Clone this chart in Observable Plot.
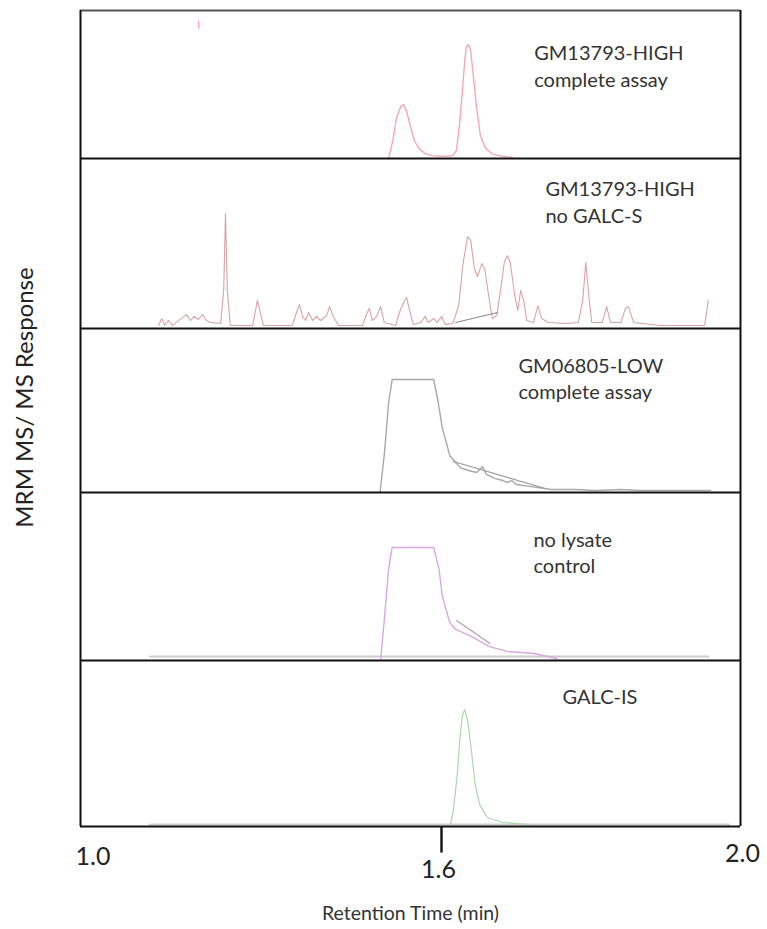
<!DOCTYPE html>
<html>
<head>
<meta charset="utf-8">
<script src="https://cdn.jsdelivr.net/npm/d3@7"></script>
<script src="https://cdn.jsdelivr.net/npm/@observablehq/plot@0.6"></script>
<style>
  html, body { margin: 0; padding: 0; background: #fff; }
  #chart svg { display: block; }
</style>
</head>
<body>
<div id="chart"></div>
<script>
// Panels, bottom (0) to top (4)
const panelNames = ["GALC-IS", "no lysate\ncontrol", "GM06805-LOW\ncomplete assay", "GM13793-HIGH\nno GALC-S", "GM13793-HIGH\ncomplete assay"];
const panelColors = ["#a9d9a9", "#d9a8e2", "#a8a8a8", "#d9a3a6", "#f5a3af"];
const xTicks = [1.0, 1.6, 2.0];

// [retention time (min), relative response within panel]
const highComplete = [
  [1.512,0],[1.519,0.12],[1.525,0.27],[1.532,0.35],[1.537,0.365],[1.542,0.32],[1.548,0.22],
  [1.555,0.12],[1.562,0.07],[1.572,0.035],[1.585,0.02],[1.605,0.015],[1.615,0.02],[1.620,0.055],
  [1.624,0.22],[1.628,0.46],[1.631,0.65],[1.633,0.75],[1.636,0.77],[1.639,0.73],[1.643,0.54],
  [1.647,0.34],[1.652,0.155],[1.659,0.07],[1.668,0.03],[1.682,0.015],[1.695,0.007]
];
const highCompleteSpeck = [[1.196,0.93],[1.197,0.88]];
const highNoSubstrate = [
  [1.130,.018],[1.135,.059],[1.140,.018],[1.146,.047],[1.153,.018],[1.176,.082],[1.183,.047],
  [1.189,.071],[1.196,.053],[1.203,.082],[1.209,.047],[1.216,.035],[1.233,.029],[1.238,.224],
  [1.241,.676],[1.244,.224],[1.249,.018],[1.286,.018],[1.291,.106],[1.294,.165],[1.299,.094],
  [1.304,.018],[1.352,.018],[1.359,.094],[1.364,.141],[1.369,.071],[1.374,.047],[1.379,.094],
  [1.386,.047],[1.392,.071],[1.399,.047],[1.409,.076],[1.414,.129],[1.420,.071],[1.429,.018],
  [1.469,.018],[1.475,.082],[1.480,.118],[1.485,.047],[1.492,.071],[1.499,.129],[1.505,.035],
  [1.524,.018],[1.530,.094],[1.537,.153],[1.542,.182],[1.547,.106],[1.553,.024],[1.565,.035],
  [1.573,.071],[1.578,.035],[1.587,.059],[1.593,.035],[1.600,.071],[1.605,.024],[1.615,.029],
  [1.623,.135],[1.629,.388],[1.635,.541],[1.639,.518],[1.644,.353],[1.648,.306],[1.654,.382],
  [1.658,.347],[1.663,.194],[1.668,.059],[1.674,.076],[1.679,.224],[1.684,.388],[1.688,.429],
  [1.692,.388],[1.698,.194],[1.702,.106],[1.706,.224],[1.710,.165],[1.714,.047],[1.723,.035],
  [1.729,.135],[1.734,.059],[1.743,.035],[1.767,.029],[1.783,.035],[1.789,.165],[1.793,.388],
  [1.797,.194],[1.801,.035],[1.815,.035],[1.821,.129],[1.826,.035],[1.840,.035],[1.846,.118],
  [1.850,.129],[1.857,.035],[1.893,.018],[1.952,.018],[1.957,.165]
];
const lowComplete = [
  [1.498,.006],[1.505,.232],[1.512,.543],[1.518,.689],[1.587,.689],[1.594,.561],[1.601,.396],
  [1.611,.226],[1.619,.183],[1.625,.152],[1.636,.134],[1.647,.122],[1.655,.159],[1.660,.110],
  [1.672,.085],[1.682,.073],[1.688,.061],[1.694,.073],[1.700,.049],[1.718,.037],[1.747,.018],
  [1.779,.018],[1.807,.012],[1.840,.018],[1.866,.012],[1.893,.012],[1.960,.012]
];
const noLysate = [
  [1.499,.012],[1.505,.244],[1.512,.542],[1.518,.673],[1.587,.673],[1.596,.542],[1.601,.384],
  [1.611,.226],[1.619,.185],[1.640,.143],[1.664,.083],[1.688,.054],[1.724,.042],[1.754,.012]
];
const galcIS = [
  [1.612,.012],[1.616,.102],[1.621,.307],[1.625,.548],[1.628,.669],[1.631,.705],[1.635,.639],
  [1.640,.458],[1.645,.253],[1.651,.133],[1.661,.054],[1.682,.024],[1.718,.012]
];
// integration baselines drawn by the software
const highNoSubstrateBase = [[1.619,.035],[1.675,.094]];
const lowCompleteBase = [[1.616,.189],[1.739,.024]];
const noLysateBase = [[1.620,.238],[1.665,.101]];
const noLysateFloor = [[1.115,.024],[1.957,.024]];
const galcFloor = [[1.115,.012],[1.985,.012]];

// The printed time axis is not uniform: 1.0–1.6 and 1.6–2.0 have different spacing.
const xBreaks = [1.0, 1.6, 2.0];
const xBreakPos = [0, 361, 660];
// Panels have slightly unequal heights; a short strip below panel 0 holds the tick mark.
const panelEdges = [0, 1, 2, 3, 4, 5];
const panelEdgePos = [0, 166, 334, 498, 668, 816];
const xWarp = d3.scaleLinear().domain(xBreaks).range(xBreakPos);
const yWarp = d3.scaleLinear().domain(panelEdges).range(panelEdgePos);

const traces = [
  {panel: 4, data: highComplete, stroke: panelColors[4], w: 1.3},
  {panel: 4, data: highCompleteSpeck, stroke: panelColors[4], w: 1.3},
  {panel: 3, data: highNoSubstrate, stroke: panelColors[3], w: 1.1},
  {panel: 3, data: highNoSubstrateBase, stroke: "#8a8a8a", w: 1.1},
  {panel: 2, data: lowComplete, stroke: panelColors[2], w: 1.4},
  {panel: 2, data: lowCompleteBase, stroke: "#9a9a9a", w: 1.1},
  {panel: 1, data: noLysateFloor, stroke: "#cccccc", w: 2},
  {panel: 0, data: galcFloor, stroke: "#cccccc", w: 2},
  {panel: 1, data: noLysate, stroke: panelColors[1], w: 1.4},
  {panel: 1, data: noLysateBase, stroke: "#b39ab8", w: 1.1},
  {panel: 0, data: galcIS, stroke: panelColors[0], w: 1.2}
];

const labelX = [1.762, 1.723, 1.703, 1.739, 1.724];
const labelY = [0.79, 1.65, 2.70, 3.75, 4.63];

const font = "Lato, 'Open Sans', sans-serif";

const marks = [];
traces.forEach((tr) => {
  marks.push(Plot.line(tr.data, {
    x: d => d[0], y: d => tr.panel + d[1],
    stroke: tr.stroke, strokeWidth: tr.w, curve: "linear"
  }));
});
marks.push(
  Plot.ruleY([0, 1, 2, 3, 4], {stroke: "#111", strokeWidth: 2.2}),
  Plot.ruleY([5], {stroke: "#555", strokeWidth: 2.2}),
  Plot.ruleX([1.0, 2.0], {y1: 0, y2: 5, stroke: "#111", strokeWidth: 2}),
  // the single tick mark below the frame, drawn in the short strip under panel 0
  Plot.ruleX([xTicks[1]], {y1: -0.16, y2: 0, stroke: "#111", strokeWidth: 2.4}),
  Plot.text([xTicks[0]], {x: d => d, frameAnchor: "bottom", dy: 12, dx: -5, textAnchor: "start", text: d => d.toFixed(1), fontSize: 25, fill: "#222"}),
  Plot.text([xTicks[1]], {x: d => d, frameAnchor: "bottom", dy: 25, dx: -3, text: d => d.toFixed(1), fontSize: 25, fill: "#222"}),
  Plot.text([xTicks[2]], {x: d => d, frameAnchor: "bottom", dy: 9, dx: 2, text: d => d.toFixed(1), fontSize: 25, fill: "#222"}),
  Plot.text(["Retention Time (min)"], {frameAnchor: "bottom", dy: 67, fontSize: 19.5, fill: "#333"}),
  Plot.text(["MRM MS/ MS Response"], {frameAnchor: "left", textAnchor: "middle", rotate: -90, dx: -55, dy: -34, fontSize: 24, fill: "#222"}),
  Plot.text(panelNames, {
    x: (d, i) => labelX[i], y: (d, i) => labelY[i],
    text: d => d, textAnchor: "start", lineAnchor: "middle", lineHeight: 1.33,
    fontSize: 20, fill: "#333"
  })
);

const chart = Plot.plot({
  width: 767,
  height: 929,
  marginLeft: 80,
  marginRight: 27,
  marginTop: 10,
  marginBottom: 77,
  style: {fontFamily: font, background: "#fff"},
  x: {transform: xWarp, domain: [0, 660], axis: null},
  y: {transform: yWarp, domain: [-26, 816], axis: null},
  marks
});
document.getElementById("chart").appendChild(chart);
</script>
</body>
</html>
